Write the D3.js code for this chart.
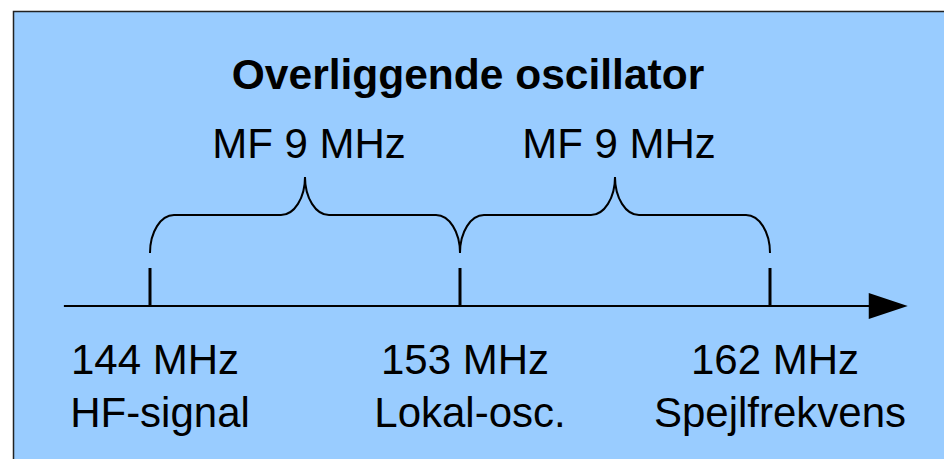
<!DOCTYPE html>
<html>
<head>
<meta charset="utf-8">
<script src="https://cdn.jsdelivr.net/npm/d3@7"></script>
<style>
  body { margin: 0; background: #fff; }
  svg { display: block; font-family: "Liberation Sans", Arial, sans-serif; }
</style>
</head>
<body>
<div id="chart"></div>
<script>
// data
var title = "Overliggende oscillator";
var freqs = [144, 153, 162];
var freqLabels = ["144 MHz", "153 MHz", "162 MHz"];
var nameLabels = ["HF-signal", "Lokal-osc.", "Spejlfrekvens"];
var braceFrom = [144, 153];
var braceTo = [153, 162];
var braceLabels = ["MF 9 MHz", "MF 9 MHz"];
var axisExtent = [141.5, 166];

var width = 944, height = 459;

var svg = d3.select("#chart")
  .append("svg")
    .attr("width", width)
    .attr("height", height);

// background panel (runs off the right and bottom edge)
svg.append("rect")
    .attr("x", 13.5)
    .attr("y", 11.5)
    .attr("width", 1000)
    .attr("height", 1000)
    .style("fill", "#99ccff")
    .style("stroke", "#222")
    .style("stroke-width", 1.5);

var xScale = d3.scaleLinear()
    .domain([144, 162])
    .range([150, 770]);

var axisY = 306;

// axis line with arrow head
svg.append("line")
    .attr("x1", xScale(axisExtent[0]))
    .attr("x2", xScale(axisExtent[1]) - 30)
    .attr("y1", axisY)
    .attr("y2", axisY)
    .style("stroke", "#000")
    .style("stroke-width", 2.2);

var tipX = xScale(axisExtent[1]);
svg.append("path")
    .attr("d", "M" + tipX + "," + axisY + "L" + (tipX - 39) + "," + (axisY - 13) + "L" + (tipX - 39) + "," + (axisY + 13) + "Z")
    .style("fill", "#000");

// ticks
svg.selectAll("line.tick")
  .data(freqs)
  .enter()
  .append("line")
    .attr("class", "tick")
    .attr("x1", d => xScale(d))
    .attr("x2", d => xScale(d))
    .attr("y1", 268)
    .attr("y2", axisY)
    .style("stroke", "#000")
    .style("stroke-width", 3);

// curly braces
var yBottom = 253, yMid = 215, yTop = 177, rx = 24, ry = 38;
const bracePath = (a, b) => {
    var x0 = xScale(a), x1 = xScale(b), m = (x0 + x1) / 2;
    return "M" + x0 + "," + yBottom +
        "A" + rx + "," + ry + " 0 0 1 " + (x0 + rx) + "," + yMid +
        "L" + (m - rx) + "," + yMid +
        "A" + rx + "," + ry + " 0 0 0 " + m + "," + yTop +
        "A" + rx + "," + ry + " 0 0 0 " + (m + rx) + "," + yMid +
        "L" + (x1 - rx) + "," + yMid +
        "A" + rx + "," + ry + " 0 0 1 " + x1 + "," + yBottom;
};

svg.selectAll("path.brace")
  .data(braceFrom)
  .enter()
  .append("path")
    .attr("class", "brace")
    .attr("d", (d, i) => bracePath(d, braceTo[i]))
    .style("fill", "none")
    .style("stroke", "#000")
    .style("stroke-width", 2);

svg.selectAll("text.mf")
  .data(braceLabels)
  .enter()
  .append("text")
    .attr("class", "mf")
    .attr("x", (d, i) => (xScale(braceFrom[i]) + xScale(braceTo[i])) / 2 + 4)
    .attr("y", 158)
    .attr("text-anchor", "middle")
    .style("font-size", "42px")
    .text(d => d);

// title
svg.append("text")
    .attr("x", 468)
    .attr("y", 89)
    .attr("text-anchor", "middle")
    .style("font-size", "42.5px")
    .style("font-weight", "bold")
    .text(title);

// frequency labels
svg.selectAll("text.freq")
  .data(freqLabels)
  .enter()
  .append("text")
    .attr("class", "freq")
    .attr("x", (d, i) => xScale(freqs[i]) + 5)
    .attr("y", 374)
    .attr("text-anchor", "middle")
    .style("font-size", "42px")
    .text(d => d);

svg.selectAll("text.name")
  .data(nameLabels)
  .enter()
  .append("text")
    .attr("class", "name")
    .attr("x", (d, i) => xScale(freqs[i]) + 10)
    .attr("y", 427)
    .attr("text-anchor", "middle")
    .style("font-size", "42px")
    .text(d => d);
</script>
</body>
</html>
